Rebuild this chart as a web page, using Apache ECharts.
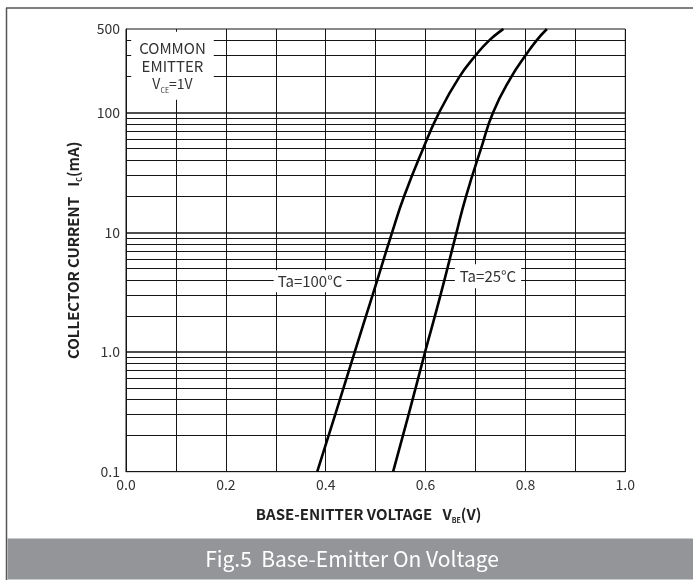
<!DOCTYPE html>
<html>
<head>
<meta charset="utf-8">
<script src="https://cdn.jsdelivr.net/npm/echarts@6/dist/echarts.min.js"></script>
<style>
html,body{margin:0;padding:0;background:#fff;}
#main{width:693px;height:580px;}
</style>
</head>
<body>
<div id="main"></div>
<script>
// ---- data ----
const vbe100 = [0.383, 0.419, 0.458, 0.494, 0.533, 0.557, 0.595, 0.627, 0.668, 0.700, 0.727, 0.756];
const ic100  = [0.1,   0.3,   1.0,   3.0,   10,    20,    50,    100,   200,   300,   400,   500];
const vbe25  = [0.535, 0.566, 0.599, 0.630, 0.662, 0.681, 0.711, 0.735, 0.772, 0.800, 0.822, 0.843];
const ic25   = [0.1,   0.3,   1.0,   3.0,   10,    20,    50,    100,   200,   300,   400,   500];
const yTickLabels = [0.1, 1, 10, 100, 500];
const yMinorGrid = [0.2,0.3,0.4,0.5,0.6,0.7,0.8,0.9, 2,3,4,5,6,7,8,9, 20,30,40,50,60,70,80,90, 200,300,400];
const yMajorGrid = [1, 10, 100];
const xMin = 0, xMax = 1.0, xStep = 0.1;
const yMin = 0.1, yMax = 500;
const label100 = {text: 'Ta=100°C', v: 0.3685, i: 3.9};
const label25  = {text: 'Ta=25°C',  v: 0.725,  i: 4.3};
const noteAt = {v: 0.0931, i: 246};

const FONT = '"Noto Sans CJK SC", "Noto Sans", sans-serif';
const GRID = '#151515';

const chart = echarts.init(document.getElementById('main'), null, {renderer: 'canvas'});

function pairs(xs, ys){ return xs.map((x,k)=>[x, ys[k]]); }

const option = {
  animation: false,
  backgroundColor: '#fff',
  textStyle: {fontFamily: FONT},
  grid: {left: 126, top: 29, right: 67.7, bottom: 108.3, show: true, borderColor: GRID, borderWidth: 1, backgroundColor: 'transparent'},
  xAxis: {
    type: 'value', min: xMin, max: xMax, interval: xStep,
    axisLine: {show: true, lineStyle: {color: GRID, width: 1}},
    axisTick: {show: false},
    splitLine: {show: true, lineStyle: {color: GRID, width: 1}},
    axisLabel: {
      color: '#333', fontSize: 14, fontFamily: FONT, margin: 6,
      formatter: v => { const r = Math.round(v*10); return r % 2 === 0 ? (r/10).toFixed(1) : ''; }
    },
    name: 'BASE-ENITTER VOLTAGE   V{s|BE}(V)',
    nameLocation: 'middle', nameGap: 35,
    nameTextStyle: {
      fontFamily: FONT, fontWeight: 'bold', fontSize: 15, color: '#222', padding: [0, 14, 0, 0],
      rich: {s: {fontFamily: FONT, fontWeight: 'bold', fontSize: 7, color: '#222', verticalAlign: 'bottom', padding: [0,0,-2,0]}}
    }
  },
  yAxis: {
    type: 'log', logBase: 10, min: yMin, max: yMax,
    axisLine: {show: true, lineStyle: {color: GRID, width: 1}},
    axisTick: {show: false},
    splitLine: {show: false},
    minorSplitLine: {show: false},
    axisLabel: {
      color: '#333', fontSize: 14, fontFamily: FONT, margin: 6,
      customValues: yTickLabels,
      formatter: v => { if (Math.abs(v-1) < 1e-9) return '1.0'; if (Math.abs(v-0.1) < 1e-9) return '0.1'; return String(Math.round(v)); }
    },
    name: 'COLLECTOR CURRENT   I{s|C}(mA)',
    nameLocation: 'middle', nameGap: 45,
    nameTextStyle: {
      fontFamily: FONT, fontWeight: 'bold', fontSize: 15, color: '#222',
      rich: {s: {fontFamily: FONT, fontWeight: 'bold', fontSize: 7, color: '#222', verticalAlign: 'bottom', padding: [0,0,-2,0]}}
    }
  },
  series: [
    {
      name: 'grid', type: 'line', data: [], z: 1, silent: true,
      markLine: {
        silent: true, symbol: ['none','none'], animation: false,
        label: {show: false},
        lineStyle: {type: 'solid', color: GRID, width: 1},
        data: yMinorGrid.map(v => ({yAxis: v})).concat(yMajorGrid.map(v => ({yAxis: v, lineStyle: {width: 1.6, type: 'solid', color: GRID}})))
      }
    },
    {
      name: 'Ta=100°C', type: 'line', data: pairs(vbe100, ic100), smooth: 0.5, showSymbol: false, symbol: 'none', z: 5,
      lineStyle: {color: '#000', width: 2.6}, itemStyle: {color: '#000'},
      markPoint: {
        silent: true, symbol: 'rect', symbolSize: 1, itemStyle: {color: 'rgba(0,0,0,0)'},
        label: {show: true, position: 'inside', formatter: '{b}', color: '#333', fontFamily: FONT, fontSize: 15, backgroundColor: '#fff', padding: [4,4,3,4]},
        data: [{name: label100.text, coord: [label100.v, label100.i]}]
      }
    },
    {
      name: 'Ta=25°C', type: 'line', data: pairs(vbe25, ic25), smooth: 0.5, showSymbol: false, symbol: 'none', z: 5,
      lineStyle: {color: '#000', width: 2.6}, itemStyle: {color: '#000'},
      markPoint: {
        silent: true, symbol: 'rect', symbolSize: 1, itemStyle: {color: 'rgba(0,0,0,0)'},
        label: {show: true, position: 'inside', formatter: '{b}', color: '#333', fontFamily: FONT, fontSize: 15, backgroundColor: '#fff', padding: [5,5,4,5]},
        data: [
          {name: label25.text, coord: [label25.v, label25.i]},
          {name: 'note', coord: [noteAt.v, noteAt.i],
           label: {
             formatter: '{a|COMMON}\n{a|EMITTER}\n{v|V}{s|CE}{v|=1V}',
             backgroundColor: '#fff', padding: [7,8,7,8], align: 'center',
             rich: {
               a: {fontFamily: FONT, fontSize: 15, color: '#333', lineHeight: 18, align: 'center'},
               v: {fontFamily: FONT, fontSize: 14, color: '#333', lineHeight: 18},
               s: {fontFamily: FONT, fontSize: 7, color: '#333', lineHeight: 18, verticalAlign: 'bottom', padding: [0,0,-1,0]}
             }
           }}
        ]
      }
    }
  ],
  graphic: [
    {type: 'line', shape: {x1: 6, y1: 8, x2: 693, y2: 8}, style: {stroke: '#555', lineWidth: 1.5}, silent: true},
    {type: 'line', shape: {x1: 6.5, y1: 8, x2: 6.5, y2: 580}, style: {stroke: '#555', lineWidth: 1.5}, silent: true},
    {type: 'rect', shape: {x: 7.5, y: 538.5, width: 686, height: 41}, style: {fill: '#939598'}, silent: true},
    {type: 'text', x: 352, y: 559.5, silent: true,
     style: {text: 'Fig.5  Base-Emitter On Voltage', fill: '#fff', font: '21px ' + FONT, textAlign: 'center', textVerticalAlign: 'middle'}}
  ]
};
chart.setOption(option);
</script>
</body>
</html>
